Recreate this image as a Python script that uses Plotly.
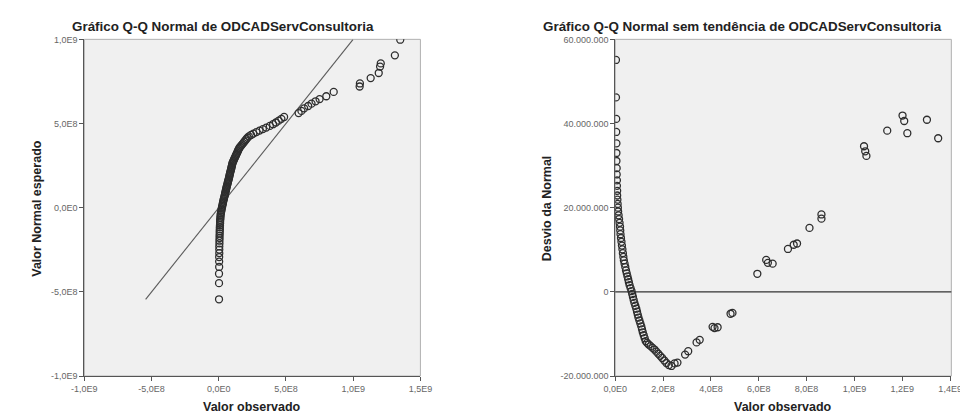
import plotly.graph_objects as go

# ---------------- data ----------------
# Left panel: Q-Q normal plot (observed value vs expected normal value, units of 1e9)
left_obs = [0.002, 0.002, 0.002, 0.003, 0.003, 0.003, 0.004, 0.004, 0.004, 0.005,
            0.005, 0.006, 0.006, 0.007, 0.007, 0.008, 0.008, 0.009, 0.010, 0.010,
            0.011, 0.012, 0.013, 0.014, 0.016, 0.018, 0.020, 0.022, 0.024, 0.027,
            0.029, 0.031, 0.033, 0.035, 0.038, 0.040, 0.043, 0.045, 0.047, 0.049,
            0.051, 0.053, 0.055, 0.057, 0.059, 0.061, 0.064, 0.066, 0.068, 0.070,
            0.073, 0.075, 0.077, 0.079, 0.081, 0.083, 0.085, 0.087, 0.090, 0.092,
            0.094, 0.096, 0.098, 0.100, 0.102, 0.105, 0.109, 0.113, 0.117, 0.121,
            0.125, 0.129, 0.133, 0.137, 0.141, 0.145, 0.149, 0.153, 0.160, 0.167,
            0.174, 0.182, 0.190, 0.198, 0.206, 0.214, 0.224, 0.240, 0.258, 0.280,
            0.303, 0.328, 0.353, 0.380, 0.404, 0.425, 0.446, 0.466, 0.486, 0.594,
            0.615, 0.635, 0.665, 0.690, 0.720, 0.750, 0.800, 0.855, 1.048, 1.050,
            1.130, 1.190, 1.200, 1.205, 1.310, 1.350]
left_exp = [-0.544, -0.448, -0.392, -0.352, -0.320, -0.293, -0.270, -0.249, -0.230, -0.212,
            -0.196, -0.181, -0.167, -0.153, -0.140, -0.128, -0.116, -0.104, -0.093, -0.082,
            -0.072, -0.062, -0.052, -0.042, -0.033, -0.024, -0.015, -0.006, 0.003, 0.012,
            0.020, 0.028, 0.036, 0.044, 0.052, 0.060, 0.068, 0.075, 0.082, 0.089,
            0.096, 0.103, 0.110, 0.117, 0.124, 0.131, 0.138, 0.145, 0.152, 0.159,
            0.166, 0.173, 0.180, 0.187, 0.194, 0.201, 0.208, 0.215, 0.222, 0.229,
            0.236, 0.243, 0.250, 0.257, 0.264, 0.271, 0.278, 0.285, 0.292, 0.299,
            0.306, 0.313, 0.320, 0.327, 0.334, 0.341, 0.348, 0.355, 0.362, 0.369,
            0.376, 0.384, 0.392, 0.400, 0.408, 0.416, 0.424, 0.432, 0.440, 0.449,
            0.458, 0.467, 0.476, 0.486, 0.496, 0.506, 0.517, 0.528, 0.539, 0.562,
            0.575, 0.590, 0.604, 0.618, 0.632, 0.645, 0.662, 0.688, 0.720, 0.738,
            0.770, 0.800, 0.838, 0.857, 0.905, 0.998]

# Right panel: detrended Q-Q plot (observed in units of 1e8, deviation in millions)
right_obs = [0.03, 0.03, 0.04, 0.04, 0.05, 0.05, 0.05, 0.06, 0.06, 0.07,
             0.07, 0.08, 0.08, 0.09, 0.10, 0.11, 0.12, 0.14, 0.16, 0.18,
             0.20, 0.21, 0.22, 0.24, 0.26, 0.28, 0.30, 0.32, 0.34, 0.36,
             0.39, 0.42, 0.45, 0.48, 0.51, 0.54, 0.57, 0.60, 0.64, 0.68,
             0.71, 0.74, 0.77, 0.80, 0.84, 0.88, 0.91, 0.94, 0.97, 1.01,
             1.05, 1.09, 1.12, 1.15, 1.19, 1.23, 1.27, 1.33, 1.40, 1.48,
             1.56, 1.64, 1.72, 1.80, 1.88, 1.96, 2.05, 2.14, 2.24, 2.35,
             2.48, 2.60, 2.92, 3.05, 3.40, 3.53, 4.07, 4.15, 4.28, 4.82,
             4.90, 5.94, 6.31, 6.38, 6.58, 7.22, 7.46, 7.60, 8.12, 8.62,
             8.62, 10.40, 10.45, 10.50, 11.37, 12.01, 12.08, 12.21, 13.03, 13.50]
right_dev = [55.1, 46.2, 41.1, 38.0, 35.3, 33.0, 31.1, 29.4, 27.9, 26.5,
             25.2, 24.0, 22.9, 21.9, 20.9, 20.0, 19.1, 18.2, 17.3, 16.4,
             15.5, 14.6, 13.7, 12.8, 11.9, 11.0, 10.1, 9.2, 8.3, 7.5,
             6.7, 5.9, 5.1, 4.4, 3.7, 3.0, 2.3, 1.6, 0.9, 0.2,
             -0.5, -1.2, -1.9, -2.6, -3.3, -4.0, -4.7, -5.4, -6.1, -6.8,
             -7.5, -8.2, -8.9, -9.6, -10.3, -11.0, -11.7, -12.1, -12.5, -12.9,
             -13.3, -13.7, -14.2, -14.7, -15.2, -15.7, -16.3, -16.9, -17.4, -17.6,
             -17.0, -16.8, -14.9, -14.1, -12.0, -11.4, -8.3, -8.6, -8.4, -5.2,
             -5.0, 4.3, 7.6, 6.9, 6.7, 10.2, 11.2, 11.5, 15.2, 17.4,
             18.4, 34.6, 33.4, 32.3, 38.3, 41.9, 40.6, 37.7, 40.9, 36.5]

left_xticks = [-1.0, -0.5, 0.0, 0.5, 1.0, 1.5]
left_xticktext = ["-1,0E9", "-5,0E8", "0,0E0", "5,0E8", "1,0E9", "1,5E9"]
left_yticks = [-1.0, -0.5, 0.0, 0.5, 1.0]
left_yticktext = ["-1,0E9", "-5,0E8", "0,0E0", "5,0E8", "1,0E9"]
right_xticks = [0, 2, 4, 6, 8, 10, 12, 14]
right_xticktext = ["0,0E0", "2,0E8", "4,0E8", "6,0E8", "8,0E8", "1,0E9", "1,2E9", "1,4E9"]
right_yticks = [-20, 0, 20, 40, 60]
right_yticktext = ["-20.000.000", "0", "20.000.000", "40.000.000", "60.000.000"]

title_left = "Gráfico Q-Q Normal de ODCADServConsultoria"
title_right = "Gráfico Q-Q Normal sem tendência de ODCADServConsultoria"

# ---------------- figure ----------------
W, H = 968, 416
FONT = "Liberation Sans, Arial, sans-serif"
MK = dict(symbol="circle-open", size=7, color="#2e2e2e", line=dict(width=1.3, color="#2e2e2e"))

fig = go.Figure()

# reference line y = x over the range of expected values
lo, hi = min(left_exp), max(left_exp)
fig.add_trace(go.Scatter(x=[lo, hi], y=[lo, hi], mode="lines",
                         line=dict(color="#5a5a5a", width=1.1), hoverinfo="skip",
                         xaxis="x", yaxis="y", showlegend=False))
fig.add_trace(go.Scatter(x=left_obs, y=left_exp, mode="markers", marker=MK,
                         xaxis="x", yaxis="y", showlegend=False))
fig.add_trace(go.Scatter(x=right_obs, y=right_dev, mode="markers", marker=MK,
                         xaxis="x2", yaxis="y2", showlegend=False))

def px_x(p):
    return p / W

def px_y(p):
    return 1 - p / H

axis_common = dict(showgrid=False, zeroline=False, showline=True, linecolor="#555555",
                   linewidth=1, ticks="outside", ticklen=4, tickcolor="#555555",
                   tickfont=dict(family=FONT, size=9, color="#666666"), fixedrange=True)

fig.update_layout(
    width=W, height=H,
    margin=dict(l=0, r=0, t=0, b=0),
    paper_bgcolor="white",
    plot_bgcolor="#f0f0f0",
    xaxis=dict(domain=[px_x(65), px_x(410)], range=[-1.0, 1.5], tickvals=left_xticks,
               ticktext=left_xticktext, anchor="y", **axis_common),
    yaxis=dict(domain=[px_y(372), px_y(27)], range=[-1.0, 1.0], tickvals=left_yticks,
               ticktext=left_yticktext, anchor="x", **axis_common),
    xaxis2=dict(domain=[px_x(610), px_x(955)], range=[0, 14.05], tickvals=right_xticks,
                ticktext=right_xticktext, anchor="y2", **axis_common),
    yaxis2=dict(domain=[px_y(372), px_y(27)], range=[-20, 60], tickvals=right_yticks,
                ticktext=right_yticktext, anchor="x2", **axis_common),
    shapes=[
        dict(type="rect", xref="x domain", yref="y domain", x0=0, x1=1, y0=0, y1=1,
             line=dict(color="#b0b0b0", width=1), layer="below"),
        dict(type="rect", xref="x2 domain", yref="y2 domain", x0=0, x1=1, y0=0, y1=1,
             line=dict(color="#b0b0b0", width=1), layer="below"),
        dict(type="line", xref="x2 domain", yref="y2", x0=0, x1=1, y0=0, y1=0,
             line=dict(color="#333333", width=1.2), layer="below"),
    ],
)

def ann(text, x, y, size, angle=0):
    fig.add_annotation(text=text, xref="paper", yref="paper", x=px_x(x), y=px_y(y),
                       xanchor="center", yanchor="middle", showarrow=False, textangle=angle,
                       font=dict(family=FONT, size=size, color="#222222"))

ann("<b>" + title_left + "</b>", 207, 14, 13.4)
ann("<b>" + title_right + "</b>", 741, 14, 13.4)
ann("<b>Valor observado</b>", 237, 404, 12.5)
ann("<b>Valor observado</b>", 782, 404, 12.5)
ann("<b>Valor Normal esperado</b>", 17, 200, 12.5, -90)
ann("<b>Desvio da Normal</b>", 540, 200, 12.5, -90)

fig.write_html("out.html")
